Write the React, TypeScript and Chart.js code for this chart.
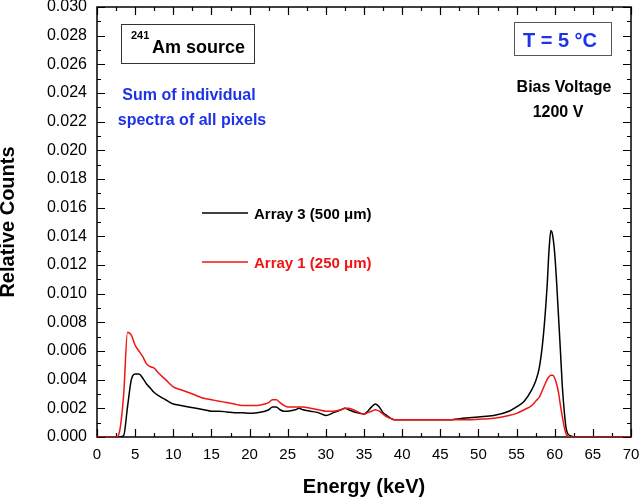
import React, { useEffect, useRef } from "react";
import { Chart, registerables } from "chart.js";

Chart.register(...registerables);

const energyKeV = [
  0, 2, 2.5, 3, 3.5, 4, 4.5, 5, 5.5, 6,
  6.5, 7, 7.5, 8, 9, 10, 11, 12, 13, 14,
  15, 16, 17, 18, 19, 20, 21, 22, 22.5, 23,
  23.5, 24, 24.5, 25, 26, 26.5, 27, 28, 29, 30,
  31, 32, 32.5, 33, 34, 35, 35.5, 36, 36.5, 37,
  37.5, 38, 38.5, 39, 40, 42, 44, 46, 48, 50,
  52, 54, 55, 56, 57, 57.5, 58, 58.5, 59, 59.25,
  59.5, 59.75, 60, 60.25, 60.5, 60.75, 61, 61.25, 61.5, 62,
  63, 65, 70,
];

const array3Counts = [
  0, 0, 0, 0, 0.0001, 0.0021, 0.004, 0.0044, 0.0044, 0.0041,
  0.0037, 0.0034, 0.0031, 0.0029, 0.0026, 0.0023, 0.0022, 0.0021, 0.002, 0.0019,
  0.0018, 0.0018, 0.00175, 0.0017, 0.0017, 0.00165, 0.0017, 0.0018, 0.0019, 0.0021,
  0.0021, 0.0019, 0.0018, 0.0018, 0.0019, 0.002, 0.0019, 0.0018, 0.0017, 0.0015,
  0.0017, 0.0019, 0.002, 0.0019, 0.0017, 0.0016, 0.0018, 0.0021, 0.0023, 0.0021,
  0.0017, 0.0015, 0.0013, 0.0012, 0.0012, 0.0012, 0.0012, 0.0012, 0.0013, 0.0014,
  0.0015, 0.0018, 0.0021, 0.0025, 0.0033, 0.0039, 0.0049, 0.007, 0.0105, 0.013,
  0.0144, 0.014, 0.0128, 0.0108, 0.0084, 0.006, 0.0035, 0.0018, 0.0006, 0.0001,
  0, 0, 0,
];

const array1Counts = [
  0, 0, 0, 0.0005, 0.003, 0.0073, 0.0071, 0.0064, 0.006, 0.0056,
  0.0051, 0.0049, 0.0048, 0.0045, 0.004, 0.0035, 0.0033, 0.0031, 0.0029, 0.0027,
  0.0026, 0.0025, 0.0024, 0.0023, 0.0022, 0.0022, 0.0022, 0.0023, 0.0024, 0.0026,
  0.0026, 0.0024, 0.0022, 0.0021, 0.0021, 0.0021, 0.0021, 0.002, 0.0019, 0.0018,
  0.0018, 0.0019, 0.002, 0.002, 0.0018, 0.0016, 0.0017, 0.0018, 0.0019, 0.0018,
  0.0016, 0.0014, 0.0013, 0.0012, 0.0012, 0.0012, 0.0012, 0.0012, 0.0012, 0.00124,
  0.0013, 0.0015, 0.00165, 0.0019, 0.0022, 0.0025, 0.0028, 0.0034, 0.004, 0.0042,
  0.0043, 0.0043, 0.0041, 0.0037, 0.0031, 0.0022, 0.0014, 0.0007, 0.0002, 0,
  0, 0, 0,
];

const seriesLabels = ["Array 3 (500 \u03bcm)", "Array 1 (250 \u03bcm)"];
const seriesColors = ["#000000", "#f01414"];

const xMin = 0, xMax = 70, xStep = 5, xMinorStep = 2.5;
const yMin = 0, yMax = 0.03, yStep = 0.002, yMinorStep = 0.001;

const FONT = "'Liberation Sans', Arial, Helvetica, sans-serif";
const BLUE = "#1e32e6";

const framePlugin = {
  id: "frameTicks",
  beforeDatasetsDraw(chart: any) {
    const { ctx, chartArea, scales } = chart;
    const xs = scales.x, ys = scales.y;
    const { left, right, top, bottom } = chartArea;
    ctx.save();
    ctx.strokeStyle = "#000";
    ctx.lineWidth = 1.5;
    ctx.strokeRect(left, top, right - left, bottom - top);
    ctx.lineWidth = 1.2;
    ctx.beginPath();
    for (let v = xMin; v <= xMax + 1e-9; v += xMinorStep) {
      const major = Math.abs(v / xStep - Math.round(v / xStep)) < 1e-6;
      const len = major ? 8 : 4;
      const px = Math.round(xs.getPixelForValue(v)) + 0.5;
      ctx.moveTo(px, bottom);
      ctx.lineTo(px, bottom - len);
      ctx.moveTo(px, top);
      ctx.lineTo(px, top + len);
    }
    for (let i = 0; i <= Math.round((yMax - yMin) / yMinorStep); i++) {
      const v = yMin + i * yMinorStep;
      const major = i % 2 === 0;
      const len = major ? 8 : 4;
      const py = Math.round(ys.getPixelForValue(v)) + 0.5;
      ctx.moveTo(left, py);
      ctx.lineTo(left + len, py);
      ctx.moveTo(right, py);
      ctx.lineTo(right - len, py);
    }
    ctx.stroke();
    ctx.restore();
  },
  afterDraw(chart: any) {
    const { ctx, chartArea } = chart;
    const L = chartArea.left, T = chartArea.top;
    ctx.save();
    ctx.textBaseline = "alphabetic";

    // 241Am source box
    ctx.strokeStyle = "#333";
    ctx.lineWidth = 1;
    ctx.strokeRect(L + 24.5, T + 17.5, 133, 39);
    ctx.fillStyle = "#000";
    ctx.textAlign = "left";
    ctx.font = `bold 11px ${FONT}`;
    ctx.fillText("241", L + 34, T + 32);
    ctx.font = `bold 18px ${FONT}`;
    ctx.fillText("Am source", L + 55, T + 46);

    // blue note
    ctx.fillStyle = BLUE;
    ctx.textAlign = "center";
    ctx.font = `bold 16px ${FONT}`;
    ctx.fillText("Sum of individual", L + 92, T + 93);
    ctx.fillText("spectra of all pixels", L + 95, T + 118);

    // T box
    ctx.strokeStyle = "#555";
    ctx.lineWidth = 1;
    ctx.strokeRect(L + 417.5, T + 15.5, 97, 33);
    ctx.font = `bold 20px ${FONT}`;
    ctx.fillText("T = 5 \u00b0C", L + 463, T + 40);

    // bias voltage
    ctx.fillStyle = "#000";
    ctx.font = `bold 16px ${FONT}`;
    ctx.fillText("Bias Voltage", L + 467, T + 85);
    ctx.fillText("1200 V", L + 461, T + 110);

    // legend
    const legY = [T + 206, T + 255];
    ctx.textAlign = "left";
    ctx.font = `bold 15px ${FONT}`;
    for (let i = 0; i < 2; i++) {
      ctx.strokeStyle = seriesColors[i];
      ctx.lineWidth = 1.5;
      ctx.beginPath();
      ctx.moveTo(L + 105, legY[i]);
      ctx.lineTo(L + 151, legY[i]);
      ctx.stroke();
      ctx.fillStyle = seriesColors[i];
      ctx.fillText(seriesLabels[i], L + 157, legY[i] + 6);
    }
    ctx.restore();
  },
};

export default function App() {
  const ref = useRef<HTMLCanvasElement | null>(null);

  useEffect(() => {
    if (!ref.current) return;
    const mk = (vals: number[]) => energyKeV.map((e, i) => ({ x: e, y: vals[i] }));
    const chart = new Chart(ref.current, {
      type: "line",
      data: {
        datasets: [
          {
            label: seriesLabels[1],
            data: mk(array1Counts),
            borderColor: seriesColors[1],
            borderWidth: 1.5,
            pointRadius: 0,
            cubicInterpolationMode: "monotone",
          },
          {
            label: seriesLabels[0],
            data: mk(array3Counts),
            borderColor: seriesColors[0],
            borderWidth: 1.5,
            pointRadius: 0,
            cubicInterpolationMode: "monotone",
          },
        ],
      },
      options: {
        responsive: false,
        animation: false,
        devicePixelRatio: 1,
        layout: { padding: { left: 0, right: 9, top: 7, bottom: 0 } },
        plugins: { legend: { display: false }, tooltip: { enabled: false } },
        scales: {
          x: {
            type: "linear",
            min: xMin,
            max: xMax,
            grid: { display: false, drawTicks: false },
            border: { display: false },
            ticks: {
              stepSize: xStep,
              color: "#000",
              font: { family: FONT, size: 15 },
              padding: 9,
              maxRotation: 0,
            },
            title: {
              display: true,
              text: "Energy (keV)",
              color: "#000",
              font: { family: FONT, size: 20, weight: "bold", lineHeight: 1.1 },
              padding: { top: 0, bottom: 0 },
            },
            afterFit: (s: any) => {
              s.height = 61;
              s.paddingLeft = 0;
              s.paddingRight = 0;
            },
          },
          y: {
            type: "linear",
            min: yMin,
            max: yMax,
            grid: { display: false, drawTicks: false },
            border: { display: false },
            ticks: {
              stepSize: yStep,
              color: "#000",
              font: { family: FONT, size: 16 },
              padding: 10,
              callback: (v: any) => Number(v).toFixed(3),
            },
            title: {
              display: true,
              text: "Relative Counts",
              color: "#000",
              font: { family: FONT, size: 20, weight: "bold", lineHeight: 0.8 },
              padding: { top: 0, bottom: 0 },
            },
            afterFit: (s: any) => {
              s.width = 97;
              s.paddingTop = 0;
              s.paddingBottom = 0;
            },
          },
        },
      },
      plugins: [framePlugin],
    } as any);
    return () => chart.destroy();
  }, []);

  return (
    <div style={{ position: "fixed", left: 0, top: 0, width: 640, height: 498, background: "#fff" }}>
      <canvas ref={ref} width={640} height={498} style={{ display: "block" }} />
    </div>
  );
}
